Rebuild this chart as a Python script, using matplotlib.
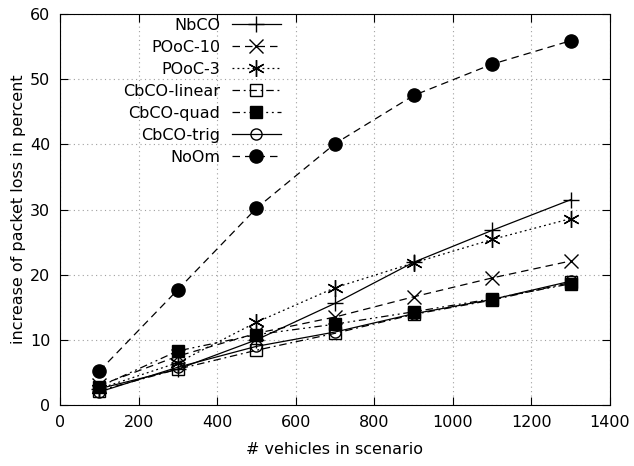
import matplotlib
matplotlib.use("Agg")
import matplotlib.pyplot as plt

vehicles = [100, 300, 500, 700, 900, 1100, 1300]

nbco = [2.5, 5.5, 10.0, 15.6, 21.9, 26.8, 31.5]
pooc10 = [3.0, 7.5, 11.0, 13.5, 16.6, 19.5, 22.1]
pooc3 = [2.5, 6.5, 12.7, 18.0, 21.8, 25.4, 28.6]
cbco_linear = [2.2, 5.5, 8.4, 11.0, 13.9, 16.1, 18.8]
cbco_quad = [2.8, 8.3, 10.8, 12.4, 14.3, 16.3, 18.6]
cbco_trig = [2.0, 5.8, 9.0, 11.2, 14.0, 16.2, 19.0]
noom = [5.2, 17.7, 30.2, 40.1, 47.5, 52.3, 55.9]

series = [
    ("NbCO", nbco, '-', '+', 'none', 12),
    ("POoC-10", pooc10, (0, (6, 4)), 'x', 'none', 10),
    ("POoC-3", pooc3, (0, (1.5, 2.5)), (6, 2, 0), 'none', 12),
    ("CbCO-linear", cbco_linear, (0, (6, 3, 1.5, 3)), 's', 'none', 8),
    ("CbCO-quad", cbco_quad, (0, (6, 3, 1.5, 3, 1.5, 3)), 's', 'black', 8),
    ("CbCO-trig", cbco_trig, '-', 'o', 'none', 8),
    ("NoOm", noom, (0, (6, 4)), 'o', 'black', 9.5),
]

fs = 11.5

fig = plt.figure(figsize=(6.34, 4.66), dpi=100)
# axes box in pixels: left 60, right 610, top 14, bottom 405
ax = fig.add_axes([60 / 634, 61 / 466, 550 / 634, 391 / 466])

for label, vals, ls, mk, fc, ms in series:
    ax.plot(vehicles, vals, linestyle=ls, marker=mk, color='black',
            markerfacecolor=fc, markersize=ms, linewidth=0.9,
            markeredgewidth=1.0, label=label)

ax.set_xlim(0, 1400)
ax.set_ylim(0, 60)
ax.set_xticks(range(0, 1401, 200))
ax.set_yticks(range(0, 61, 10))
ax.grid(True, linestyle=(0, (1, 3)), color='#a0a0a0', linewidth=0.8)
ax.tick_params(direction='in', top=True, right=True, length=6, labelsize=fs, pad=7)
ax.set_xlabel("# vehicles in scenario", fontsize=fs, labelpad=9)
ax.set_ylabel("increase of packet loss in percent", fontsize=fs, labelpad=3)

ax.legend(loc='upper right', bbox_to_anchor=(0.405, 0.995), frameon=False,
          markerfirst=False, fontsize=fs, handlelength=3.1,
          labelspacing=0.44, handletextpad=0.7, borderpad=0.1,
          borderaxespad=0)

fig.savefig("out.png", dpi=100)
